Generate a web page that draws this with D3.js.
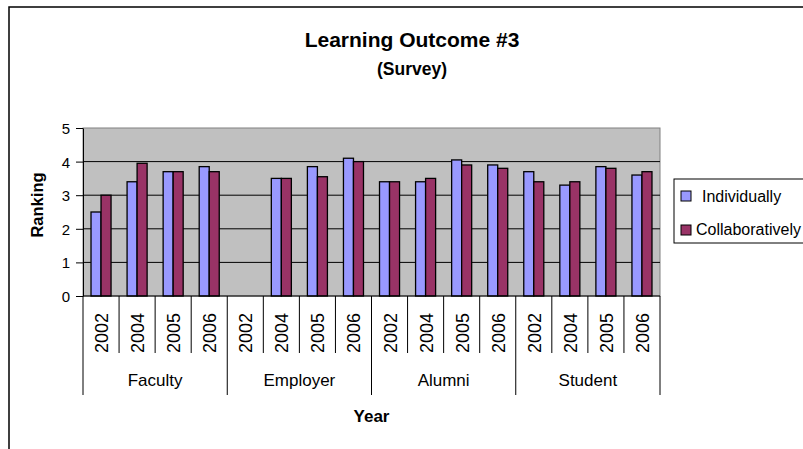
<!DOCTYPE html>
<meta charset="utf-8">
<style>
body { margin: 0; background: #fff; }
text { font-family: "Liberation Sans", Arial, sans-serif; fill: #000; }
.grid line { stroke: #000; stroke-width: 1; }
.axis path, .axis line { stroke: #000; }
.bar { stroke: #000; stroke-width: 1.3; }
</style>
<svg width="803" height="449"></svg>
<script src="https://d3js.org/d3.v7.min.js"></script>
<script>

var groups = ["Faculty", "Employer", "Alumni", "Student"];
var years = ["2002", "2004", "2005", "2006"];
var series = ["Individually", "Collaboratively"];
var individually = [2.5, 3.4, 3.7, 3.85, null, 3.5, 3.85, 4.1, 3.4, 3.4, 4.05, 3.9, 3.7, 3.3, 3.85, 3.6];
var collaboratively = [3.0, 3.95, 3.7, 3.7, null, 3.5, 3.55, 4.0, 3.4, 3.5, 3.9, 3.8, 3.4, 3.4, 3.8, 3.7];
var yTicks = [0, 1, 2, 3, 4, 5];
var colors = ["#9999ff", "#993366"];

var svg = d3.select("svg");

// chart frame (runs off the right edge like the original)
svg.append("rect")
    .attr("x", 9).attr("y", 7).attr("width", 900).attr("height", 500)
    .attr("fill", "#fff").attr("stroke", "#000").attr("stroke-width", 1.5);

var plotL = 83, plotR = 660, plotT = 128, plotB = 296;

var rows = [];
groups.forEach(function(g, gi) {
  years.forEach(function(yr, yi) {
    var i = gi * years.length + yi;
    rows.push({key: g + "|" + yr, group: g, year: yr, values: [individually[i], collaboratively[i]]});
  });
});

var x = d3.scaleBand().domain(rows.map(function(d) { return d.key; })).range([plotL, plotR]);
var x1 = d3.scaleBand().domain(series).range([0, x.bandwidth()]).paddingInner(0).paddingOuter(0.8);
var y = d3.scaleLinear().domain([0, 5]).range([plotB, plotT]);

// plot area
svg.append("rect")
    .attr("x", plotL).attr("y", plotT).attr("width", plotR - plotL).attr("height", plotB - plotT)
    .attr("fill", "#c0c0c0").attr("stroke", "#808080");

svg.append("g").attr("class", "grid")
  .selectAll("line").data(yTicks.slice(1, -1)).enter().append("line")
    .attr("x1", plotL).attr("x2", plotR)
    .attr("y1", function(d) { return y(d); }).attr("y2", function(d) { return y(d); });

// bars
var bandG = svg.append("g").selectAll("g").data(rows).enter().append("g")
    .attr("transform", function(d) { return "translate(" + x(d.key) + ",0)"; });

bandG.selectAll("rect")
  .data(function(d) { return d.values.map(function(v, i) { return {s: series[i], v: v, i: i}; }).filter(function(e) { return e.v != null; }); })
  .enter().append("rect")
    .attr("class", "bar")
    .attr("x", function(d) { return x1(d.s); })
    .attr("width", x1.bandwidth())
    .attr("y", function(d) { return y(d.v); })
    .attr("height", function(d) { return y(0) - y(d.v); })
    .attr("fill", function(d) { return colors[d.i]; });

// y axis
var yAxis = svg.append("g").attr("class", "axis")
    .attr("transform", "translate(" + plotL + ",0)")
    .call(d3.axisLeft(y).tickValues(yTicks).tickFormat(d3.format("d")).tickSize(7).tickPadding(6).tickSizeOuter(0));
yAxis.selectAll("text").style("font-size", "15px").attr("dy", "0.36em");

// x axis: baseline + band separators
svg.append("line").attr("x1", plotL).attr("x2", plotR).attr("y1", plotB).attr("y2", plotB).attr("stroke", "#000");

var edges = rows.map(function(d) { return x(d.key); }).concat([plotR]);
svg.append("g").selectAll("line").data(edges).enter().append("line")
    .attr("x1", function(d) { return d; }).attr("x2", function(d) { return d; })
    .attr("y1", plotB)
    .attr("y2", function(d, i) { return i % years.length === 0 ? 395 : 353; })
    .attr("stroke", "#000");

// year labels (rotated)
svg.append("g").selectAll("text").data(rows).enter().append("text")
    .attr("transform", function(d) { return "translate(" + (x(d.key) + x.bandwidth() / 2 + 7) + ",353) rotate(-90)"; })
    .style("font-size", "18px")
    .text(function(d) { return d.year; });

// group labels
svg.append("g").selectAll("text").data(groups).enter().append("text")
    .attr("x", function(g) { return (x(g + "|" + years[0]) + x(g + "|" + years[3]) + x.bandwidth()) / 2; })
    .attr("y", 386)
    .attr("text-anchor", "middle")
    .style("font-size", "17px")
    .text(function(g) { return g; });

// titles
svg.append("text").attr("x", 412).attr("y", 47).attr("text-anchor", "middle")
    .style("font-size", "21px").style("font-weight", "bold").text("Learning Outcome #3");
svg.append("text").attr("x", 412).attr("y", 75).attr("text-anchor", "middle")
    .style("font-size", "17.5px").style("font-weight", "bold").text("(Survey)");
svg.append("text").attr("x", (plotL + plotR) / 2).attr("y", 422).attr("text-anchor", "middle")
    .style("font-size", "17px").style("font-weight", "bold").text("Year");
svg.append("text").attr("transform", "translate(43,205) rotate(-90)").attr("text-anchor", "middle")
    .style("font-size", "16.5px").style("font-weight", "bold").text("Ranking");

// legend
var legend = svg.append("g");
legend.append("rect").attr("x", 674).attr("y", 179).attr("width", 200).attr("height", 64)
    .attr("fill", "#fff").attr("stroke", "#000");
var legendY = [191, 225];
var legendTextX = [702, 696];
var legendBase = [202, 235];
series.forEach(function(s, i) {
  legend.append("rect").attr("x", 681).attr("y", legendY[i]).attr("width", 10).attr("height", 10)
      .attr("fill", colors[i]).attr("stroke", "#000");
  legend.append("text").attr("x", legendTextX[i]).attr("y", legendBase[i])
      .style("font-size", "16px").text(s);
});

</script>
